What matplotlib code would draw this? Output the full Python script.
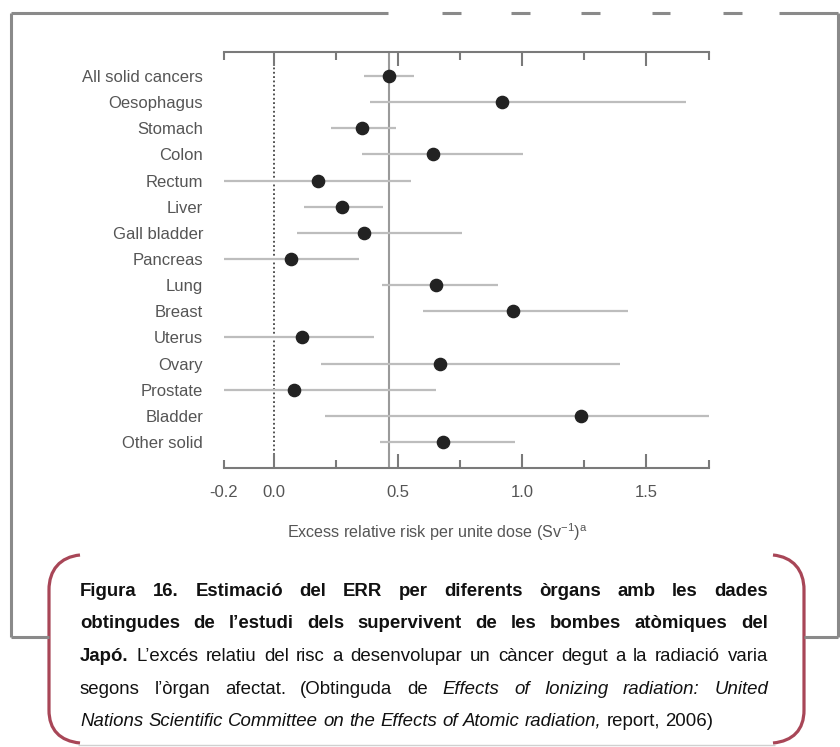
import matplotlib
matplotlib.use("Agg")
import matplotlib.pyplot as plt
from matplotlib.path import Path
from matplotlib.patches import PathPatch
from matplotlib.lines import Line2D
from matplotlib import transforms

W, H = 840, 747

# ---------------- data ----------------
organs = ["All solid cancers", "Oesophagus", "Stomach", "Colon", "Rectum", "Liver",
          "Gall bladder", "Pancreas", "Lung", "Breast", "Uterus", "Ovary",
          "Prostate", "Bladder", "Other solid"]
err_est = [0.465, 0.92, 0.355, 0.64, 0.18, 0.275, 0.365, 0.07, 0.655, 0.963,
           0.113, 0.668, 0.082, 1.238, 0.68]
err_low = [0.363, 0.389, 0.229, 0.357, -0.2, 0.123, 0.094, -0.2, 0.437, 0.601,
           -0.2, 0.189, -0.2, 0.205, 0.427]
err_high = [0.563, 1.658, 0.494, 1.003, 0.553, 0.44, 0.759, 0.343, 0.903, 1.426,
            0.402, 1.392, 0.655, 1.75, 0.97]
ref_value = 0.465
major_ticks = [-0.2, 0.0, 0.5, 1.0, 1.5]
major_labels = ["-0.2", "0.0", "0.5", "1.0", "1.5"]
minor_ticks = [0.25, 0.75, 1.25, 1.75]
x_label = "Excess relative risk per unite dose (Sv$^{-1}$)$^{\\mathrm{a}}$"

caption_lines = [
    [("Figura 16. Estimació del ERR per diferents òrgans amb les dades", "b")],
    [("obtingudes de l’estudi dels supervivent de les bombes atòmiques del", "b")],
    [("Japó.", "b"), ("L’excés relatiu del risc a desenvolupar un càncer degut a la radiació varia", "r")],
    [("segons l’òrgan afectat. (Obtinguda de", "r"), ("Effects of Ionizing radiation: United", "i")],
    [("Nations Scientific Committee on the Effects of Atomic radiation,", "i"), ("report, 2006)", "r")],
]

# ---------------- style ----------------
plt.rcParams["font.family"] = ["Liberation Sans", "DejaVu Sans"]
plt.rcParams["mathtext.fontset"] = "custom"
plt.rcParams["mathtext.rm"] = "Liberation Sans"
plt.rcParams["mathtext.it"] = "Liberation Sans:italic"

fig = plt.figure(figsize=(W / 100, H / 100), dpi=100)
T = transforms.Affine2D().scale(1 / W, -1 / H).translate(0, 1) + fig.transFigure

ax_l, ax_r, ax_t, ax_b = 224, 708.6, 52, 468
ax = fig.add_axes([ax_l / W, 1 - ax_b / H, (ax_r - ax_l) / W, (ax_b - ax_t) / H])
ypos = list(range(len(organs)))
ax.set_xlim(-0.2, 1.75)
ax.set_ylim(14.995, -0.918)

for s in ["left", "right"]:
    ax.spines[s].set_visible(False)
for s in ["top", "bottom"]:
    ax.spines[s].set_color("#7a7a7a")
    ax.spines[s].set_linewidth(1.5)

ax.set_xticks(major_ticks)
ax.set_xticklabels(major_labels)
ax.set_xticks(minor_ticks, minor=True)
ax.tick_params(axis="x", which="both", direction="in", top=True, bottom=True,
               color="#7a7a7a", width=1.5, labelcolor="#555555", labelsize=12, pad=12)
ax.tick_params(axis="x", which="major", length=10)
ax.tick_params(axis="x", which="minor", length=6)
t0 = ax.xaxis.get_major_ticks()[0]
t0.tick1line.set_markersize(6)
t0.tick2line.set_markersize(6)

ax.set_yticks(ypos)
ax.set_yticklabels(organs)
ax.tick_params(axis="y", length=0, pad=15, labelcolor="#555555", labelsize=12)

ax.axvline(0, color="#444444", lw=1.3, ls=(0, (1, 1.4)), zorder=1)
ax.axvline(ref_value, color="#9a9a9a", lw=1.5, zorder=1)
ax.hlines(ypos, err_low, err_high, color="#bdbdbd", lw=1.6, zorder=2)
ax.plot(err_est, ypos, "o", ms=8.8, color="#222222", zorder=3, clip_on=False)

fig.text(437 / W, 1 - 532 / H, x_label, ha="center", va="center", color="#555555", size=11.6)

# ---------------- frame ----------------
fc = "#8a8a8a"
def seg(xs, ys, color=fc, lw=2.2):
    fig.add_artist(Line2D(xs, ys, transform=T, color=color, lw=lw, solid_capstyle="butt"))

ytop = 13
seg([11, 388], [ytop, ytop])
for a, b in [(442, 461), (511, 530), (581, 600), (652, 670), (723, 742)]:
    seg([a, b], [ytop, ytop])
seg([779, 838], [ytop, ytop])
seg([11, 11], [ytop, 637])
seg([838, 838], [ytop, 637])
seg([11, 49], [637, 637])
seg([804, 838], [637, 637])
seg([78, 775], [745, 745], color="#d0d0d0", lw=1.0)

bc = "#a84657"
lb = Path([(80, 555), (60, 557), (49, 570), (49, 590), (49, 710), (49, 730), (60, 741), (80, 743)],
          [Path.MOVETO, Path.CURVE4, Path.CURVE4, Path.CURVE4, Path.LINETO,
           Path.CURVE4, Path.CURVE4, Path.CURVE4])
rb = Path([(773, 555), (793, 557), (804, 570), (804, 590), (804, 710), (804, 730), (793, 741), (773, 743)],
          lb.codes)
for p in (lb, rb):
    fig.add_artist(PathPatch(p, transform=T, fill=False, edgecolor=bc, lw=2.3))

# ---------------- caption (justified) ----------------
cap_size = 13.4
def kw(style):
    d = dict(family=["Liberation Sans", "DejaVu Sans"], size=cap_size, color="#111111")
    if style == "b":
        d["weight"] = "bold"
    if style == "i":
        d["style"] = "italic"
    return d

fig.canvas.draw()
rend = fig.canvas.get_renderer()
def width(s, style):
    t = fig.text(0, 0, s, **kw(style))
    w = t.get_window_extent(renderer=rend).width
    t.remove()
    return w

x0, x1 = 80, 768
baselines = [596, 628.5, 661, 693.5, 726]
for li, (line, by) in enumerate(zip(caption_lines, baselines)):
    words = []
    for txt, st in line:
        for w in txt.split(" "):
            words.append((w, st))
    ws = [width(w, st) for w, st in words]
    sp = width("a a", "r") - width("aa", "r")
    last = li == len(caption_lines) - 1
    if last or len(words) < 2:
        gap = sp
    else:
        gap = max((x1 - x0 - sum(ws)) / (len(words) - 1), 0.5 * sp)
    x = x0
    for (w, st), wd in zip(words, ws):
        fig.text(x / W, 1 - by / H, w, ha="left", va="baseline", **kw(st))
        x += wd + gap

fig.savefig("out.png", dpi=100)
